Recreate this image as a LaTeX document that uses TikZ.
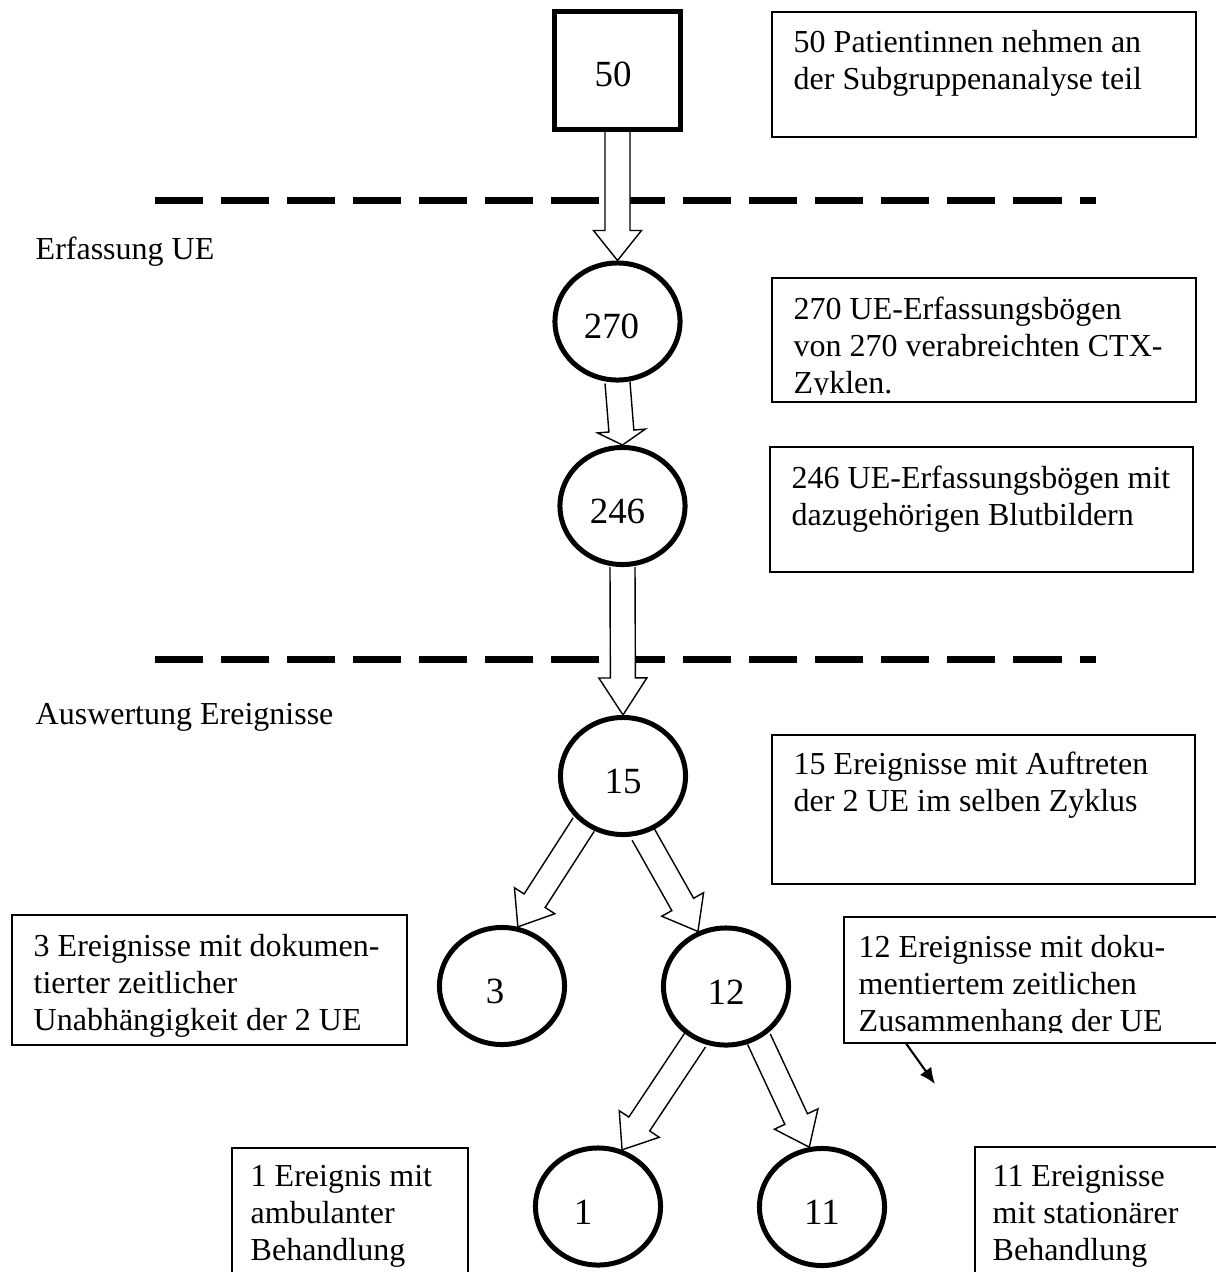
\documentclass[tikz,border=0pt]{standalone}
\usepackage{fontspec}
\setmainfont{Liberation Serif}
\usepackage{tikz}
\usetikzlibrary{shapes.geometric}
\usetikzlibrary{calc}
\usetikzlibrary{arrows.meta}
\usetikzlibrary{backgrounds}

% hollow block arrow: [head length]{from}{to}
\newcommand{\fatarrow}[3][0.3cm]{%
  \path ($(#3)!#1!(#2)$) coordinate (hb);
  \draw[blockarrow] ($(#2)!0.125cm!90:(#3)$) -- ($(hb)!0.125cm!90:(#3)$)
    -- ($(hb)!0.24cm!90:(#3)$) -- (#3) -- ($(hb)!0.24cm!-90:(#3)$)
    -- ($(hb)!0.125cm!-90:(#3)$) -- ($(#2)!0.125cm!-90:(#3)$);
}

\begin{document}
\begin{tikzpicture}[
  x=0.01cm, y=-0.01cm,
  txt/.style={font=\fontsize{9.1}{10.5}\selectfont},
  count/.style={ellipse,draw,fill=white,line width=0.05cm,inner sep=0pt,
    minimum width=1.25cm,minimum height=1.17cm,text height=0.35cm,
    font=\fontsize{10.5}{12}\selectfont},
  start/.style={rectangle,draw,fill=white,line width=0.05cm,inner sep=0pt,
    minimum width=1.26cm,minimum height=1.18cm,text height=0.32cm,
    font=\fontsize{10.5}{12}\selectfont},
  infobox/.style={rectangle,draw,line width=0.4pt,inner sep=0pt},
  infotext/.style={txt,anchor=north west,align=left,inner sep=0pt},
  sepline/.style={line width=0.07cm,dash pattern=on 0.48cm off 0.18cm},
  blockarrow/.style={draw,fill=white,line width=0.4pt,line join=miter},
  pointer/.style={-{Latex[length=0.16cm,width=0.14cm]},line width=0.6pt}]
  \useasboundingbox (0,0) rectangle (1216,1272);

  % counts
  \node[start] (sq50) at (617.5,70.5) {50\kern0.09cm};
  \node[count] (c270) at (617.5,321.5) {270\kern0.12cm};
  \node[count] (c246) at (622.5,506) {246\kern0.1cm};
  \node[count] (c15) at (623,776) {15};
  \node[count] (c3) at (502,986) {3\kern0.14cm};
  \node[count] (c12) at (726,986.5) {12};
  \node[count] (c1) at (598,1206.5) {1\kern0.3cm};
  \node[count] (c11) at (822,1207) {11};

  % phase labels
  \node[infotext] (erf) at (35,236) {Erfassung UE};
  \node[infotext] (ausw) at (35,703) {Auswertung Ereignisse};

  % boxes
  \node[infobox,minimum width=4.24cm,minimum height=1.25cm] (b50) at (984,74.5) {};
  \node[infobox,minimum width=4.24cm,minimum height=1.24cm] (b270) at (984,340) {};
  \node[infobox,minimum width=4.23cm,minimum height=1.25cm] (b246) at (981.5,509.5) {};
  \node[infobox,minimum width=4.23cm,minimum height=1.49cm] (b15) at (983.5,809.5) {};
  \node[infobox,minimum width=3.95cm,minimum height=1.30cm] (b3) at (209.5,980) {};
  \node[infobox,minimum width=3.86cm,minimum height=1.26cm] (b12) at (1037,980) {};
  \node[infobox,minimum width=2.36cm,minimum height=1.37cm] (b1) at (350,1216.5) {};
  \node[infobox,minimum width=2.55cm,minimum height=1.38cm] (b11) at (1102.5,1216) {};

  \node[infotext] (t50) at (793,30) {50 Patientinnen nehmen an\\der Subgruppenanalyse teil};
  \begin{scope}
    \clip (772,278) rectangle (1196,394);
    \node[infotext] (t270) at (793,296) {270 UE-Erfassungsbögen\\von 270 verabreichten CTX-\\Zyklen.};
  \end{scope}
  \node[infotext] (t246) at (791,465) {246 UE-Erfassungsbögen mit\\dazugehörigen Blutbildern};
  \node[infotext] (t15) at (793,751) {15 Ereignisse mit Auftreten\\der 2 UE im selben Zyklus};
  \node[infotext] (t3) at (33,934) {3 Ereignisse mit dokumen-\\tierter zeitlicher\\Unabhängigkeit der 2 UE};
  \begin{scope}
    \clip (844,917) rectangle (1216,1032);
    \node[infotext] (t12) at (858,935) {12 Ereignisse mit doku-\\mentiertem zeitlichen\\Zusammenhang der UE};
  \end{scope}
  \node[infotext] (t1) at (250,1165) {1 Ereignis mit\\ambulanter\\Behandlung};
  \node[infotext] (t11) at (992,1165) {11 Ereignisse\\mit stationärer\\Behandlung};

  \coordinate (p12) at (935,1084);
  \draw[pointer] ([xshift=0.63cm]b12.south west) -- (p12);

  \begin{scope}[on background layer]
    % phase separators
    \coordinate (s1a) at (155,200);
    \coordinate (s1b) at (1096,200);
    \coordinate (s2a) at (155,659);
    \coordinate (s2b) at (1096,659);
    \draw[sepline] (s1a) -- (s1b);
    \draw[sepline] (s2a) -- (s2b);
    % flow
    \fatarrow{sq50.south}{c270.north}
    \fatarrow[0.14cm]{c270.south}{c246.north}
    \fatarrow[0.37cm]{c246.south}{c15.north}
    \fatarrow[0.31cm]{c15.231}{c3.75}
    \fatarrow[0.31cm]{c15.289}{c12.117}
    \fatarrow[0.31cm]{c12.240}{c1.67}
    \fatarrow[0.31cm]{c12.302}{c11.102}
  \end{scope}
\end{tikzpicture}
\end{document}
